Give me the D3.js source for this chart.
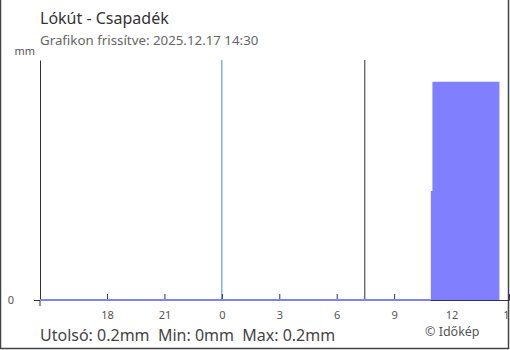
<!DOCTYPE html>
<html>
<head>
<meta charset="utf-8">
<script src="https://cdn.jsdelivr.net/npm/d3@7"></script>
<style>
  body { margin: 0; background: #fff; }
  svg { display: block; font-family: "Noto Sans", sans-serif; }
</style>
</head>
<body>
<svg id="chart"></svg>
<script>
// cumulative precipitation samples (mm)
const times = ["2025-12-16 14:30", "2025-12-17 10:55", "2025-12-17 11:00", "2025-12-17 14:30"];
const values = [0, 0.1, 0.2, 0.2];
const tickTimes = ["2025-12-16 18:00", "2025-12-16 21:00", "2025-12-17 00:00", "2025-12-17 03:00",
  "2025-12-17 06:00", "2025-12-17 09:00", "2025-12-17 12:00", "2025-12-17 15:00"];
const midnight = "2025-12-17 00:00";
const sunrise = "2025-12-17 07:28";
const domainTimes = ["2025-12-16 14:30", "2025-12-17 15:00"];
const yMax = 0.22;
const stats = { last: "0.2", min: "0", max: "0.2" };

const parse = d3.timeParse("%Y-%m-%d %H:%M");
const data = times.map((t, i) => ({ t: parse(t), v: values[i] }));

const width = 510, height = 350;
const svg = d3.select("#chart").attr("width", width).attr("height", height);

const x = d3.scaleTime().domain(domainTimes.map(parse)).range([40, 509]);
const y = d3.scaleLinear().domain([0, yMax]).range([300, 60]);

// frame (left, right, bottom)
svg.append("path")
  .attr("d", "M0.5,0V348.5H508.5V0")
  .attr("fill", "none").attr("stroke", "#444").attr("stroke-width", 1.5);

// title
svg.append("text").attr("x", 40).attr("y", 24)
  .attr("fill", "#333").style("font-size", "16px").text("Lókút - Csapadék");
svg.append("text").attr("x", 40).attr("y", 45)
  .attr("fill", "#666").style("font-size", "13.3px").text("Grafikon frissítve: 2025.12.17 14:30");

// marker lines
svg.append("line")
  .attr("x1", x(parse(midnight))).attr("x2", x(parse(midnight)))
  .attr("y1", y(yMax)).attr("y2", y(0))
  .attr("stroke", "#3a8fd4").attr("stroke-width", 1);
svg.append("line")
  .attr("x1", x(parse(sunrise))).attr("x2", x(parse(sunrise)))
  .attr("y1", y(yMax)).attr("y2", y(0))
  .attr("stroke", "#333").attr("stroke-width", 1);

// x axis
const xAxis = d3.axisBottom(x)
  .tickValues(tickTimes.map(parse))
  .tickFormat(d3.timeFormat("%-H"))
  .tickSize(-6).tickSizeOuter(0).tickPadding(11);
const gx = svg.append("g").attr("transform", `translate(0,${y(0)})`).call(xAxis);
gx.select(".domain").attr("stroke", "#333");
gx.selectAll(".tick line").attr("stroke", "#333");
gx.selectAll("text").attr("fill", "#555").style("font-size", "11px").style("font-family", "Noto Sans");

// y axis
const yAxis = d3.axisLeft(y).tickValues([0]).tickFormat(d => d).tickSize(6).tickSizeOuter(0).tickPadding(20);
const gy = svg.append("g").attr("transform", "translate(40,0)").call(yAxis);
gy.select(".domain").attr("stroke", "#333");
gy.selectAll(".tick line").attr("stroke", "#333");
gy.selectAll("text").attr("fill", "#555").style("font-size", "11px").style("font-family", "Noto Sans");
gy.append("line").attr("y1", y(0)).attr("y2", y(0) + 6).attr("stroke", "#333");
svg.append("text").attr("x", 35).attr("y", 55).attr("text-anchor", "end")
  .attr("fill", "#555").style("font-size", "11px").text("mm");

// precipitation area
const area = d3.area().x(d => x(d.t)).y0(y(0)).y1(d => y(d.v)).curve(d3.curveStepAfter);
const line = d3.line().x(d => x(d.t)).y(d => y(d.v)).curve(d3.curveStepAfter);
svg.append("path").datum(data).attr("d", area).attr("fill", "#8080ff");
svg.append("path").datum(data.filter(d => d.v === 0).concat([{ t: data[1].t, v: 0 }]))
  .attr("d", line).attr("fill", "none").attr("stroke", "#8080ff").attr("stroke-width", 2);

// footer
const gap = "\u00a0\u00a0";
svg.append("text").attr("x", 40).attr("y", 341)
  .attr("fill", "#444").style("font-size", "16px")
  .text(`Utolsó: ${stats.last}mm${gap}Min: ${stats.min}mm${gap}Max: ${stats.max}mm`);
svg.append("text").attr("x", 425).attr("y", 336)
  .attr("fill", "#555").style("font-size", "12.5px").text("© Időkép");
</script>
</body>
</html>
